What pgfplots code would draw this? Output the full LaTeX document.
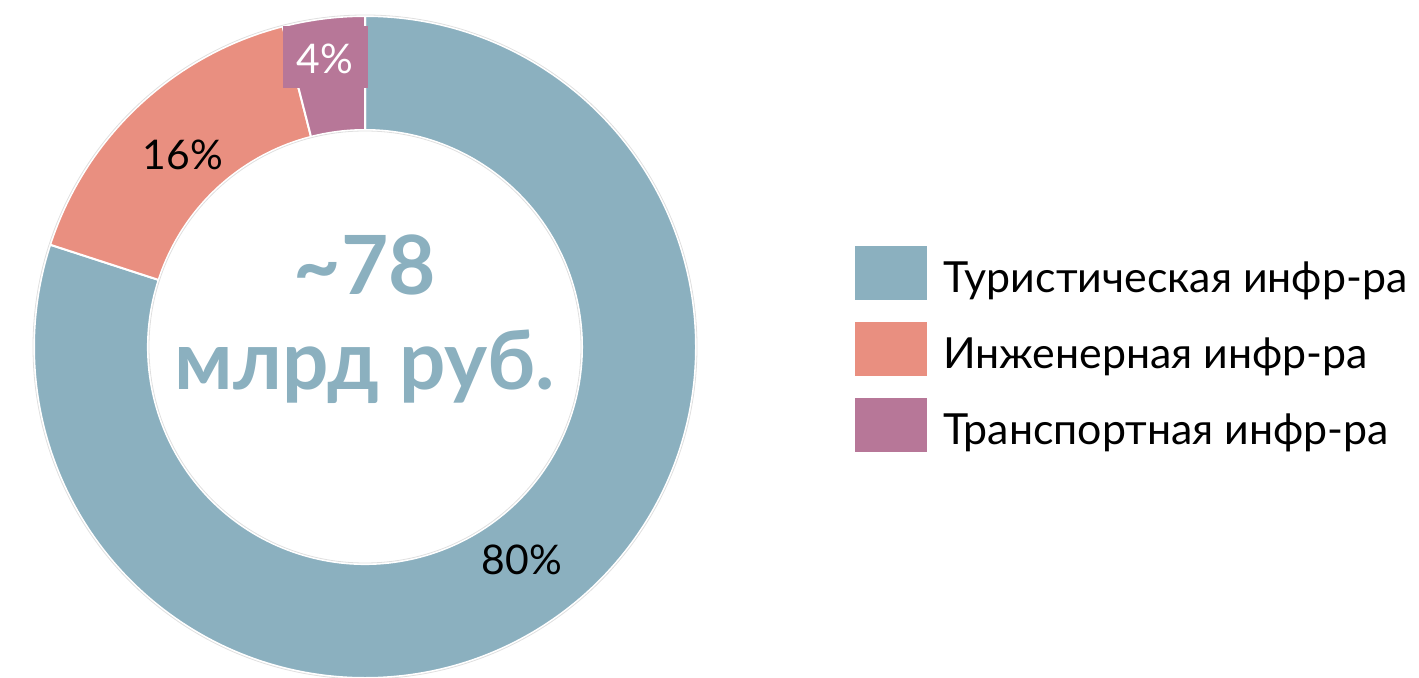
\documentclass[border=0pt]{standalone}
\usepackage{pgfplots}
\usepackage{pgfplotstable}
\pgfplotsset{compat=1.18}
\usepackage{fontspec}
\setmainfont{Lato}
\definecolor{cTur}{RGB}{139,176,191}
\definecolor{cEng}{RGB}{233,143,128}
\definecolor{cTra}{RGB}{183,119,152}

\pgfplotstableread[col sep=comma]{
name,value
Туристическая инфр-ра,80
Инженерная инфр-ра,16
Транспортная инфр-ра,4
}\shares
\pgfplotstablegetelem{0}{value}\of\shares \edef\vA{\pgfplotsretval}
\pgfplotstablegetelem{1}{value}\of\shares \edef\vB{\pgfplotsretval}
\pgfplotstablegetelem{2}{value}\of\shares \edef\vC{\pgfplotsretval}
\pgfmathsetmacro\sA{90}
\pgfmathsetmacro\eA{90-3.6*\vA}
\pgfmathsetmacro\eB{\eA-3.6*\vB}
\pgfmathsetmacro\eC{\eB-3.6*\vC}

% donut geometry (in px = bp)
\def\cx{365}\def\cy{331}\def\Ro{331}\def\Ri{217}
\newcommand\slice[3]{%
  \fill[#1, draw=white, line width=2bp]
    (axis cs:{\cx+\Ro*cos(#2)},{\cy+\Ro*sin(#2)})
    arc[start angle=#2, end angle=#3, radius=\Ro bp]
    -- (axis cs:{\cx+\Ri*cos(#3)},{\cy+\Ri*sin(#3)})
    arc[start angle=#3, end angle=#2, radius=\Ri bp] -- cycle;}

\begin{document}
\begin{tikzpicture}
\begin{axis}[x=1bp, y=1bp, disabledatascaling,
  xmin=0, xmax=1419, ymin=0, ymax=678,
  hide axis, clip=false]
  \path (rel axis cs:0,0) coordinate (BBa) (rel axis cs:1,1) coordinate (BBb);
  \slice{cTur}{\sA}{\eA}
  \slice{cEng}{\eA}{\eB}
  \slice{cTra}{\eB}{\eC}
  \draw[black!12, line width=0.8bp] (axis cs:\cx,\cy) circle[radius=332bp];
  \draw[black!12, line width=0.8bp] (axis cs:\cx,\cy) circle[radius=216bp];
  % labels
  \fill[cTra] (axis cs:283,590) rectangle (axis cs:368,652);
  \node[anchor=base, text=white, inner sep=0pt, font=\fontsize{41}{46}\selectfont] at (axis cs:325,604) {4\%};
  \node[anchor=base, text=black, inner sep=0pt, font=\fontsize{41}{46}\selectfont] at (axis cs:183,508) {16\%};
  \node[anchor=base, text=black, inner sep=0pt, font=\fontsize{41}{46}\selectfont] at (axis cs:522,103) {80\%};
  % centre text
  \node[anchor=base, text=cTur, inner sep=0pt, font=\fontsize{82}{90}\selectfont\bfseries] at (axis cs:365,383) {\char`\~78};
  \node[anchor=base, text=cTur, inner sep=0pt, font=\fontsize{82}{90}\selectfont\bfseries] at (axis cs:365,288) {млрд руб.};
  % legend
  \fill[cTur] (axis cs:855,378) rectangle (axis cs:927,432);
  \fill[cEng] (axis cs:855,302) rectangle (axis cs:927,356);
  \fill[cTra] (axis cs:855,226) rectangle (axis cs:927,280);
  \node[anchor=base west, inner sep=0pt, font=\fontsize{43}{48}\selectfont] at (axis cs:943,385) {Туристическая инфр-ра};
  \node[anchor=base west, inner sep=0pt, font=\fontsize{43}{48}\selectfont] at (axis cs:943,309) {Инженерная инфр-ра};
  \node[anchor=base west, inner sep=0pt, font=\fontsize{43}{48}\selectfont] at (axis cs:943,233) {Транспортная инфр-ра};
\end{axis}
\pgfresetboundingbox
\path (BBa) rectangle (BBb);
\end{tikzpicture}
\end{document}
